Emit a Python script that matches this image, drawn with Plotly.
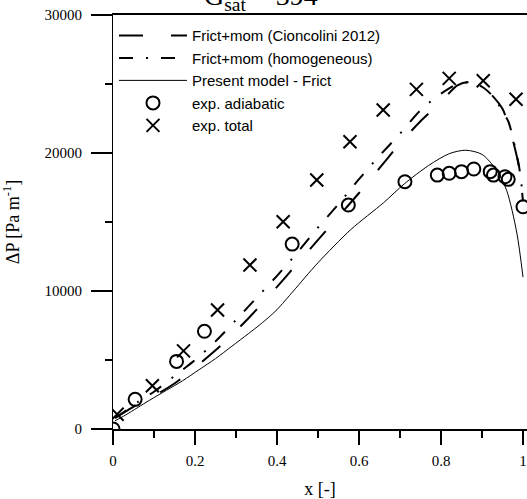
import plotly.graph_objects as go

# ---- data ----
x_cion = [0.005, 0.03, 0.06, 0.10, 0.15, 0.20, 0.25, 0.30, 0.35, 0.40, 0.45, 0.50, 0.55, 0.60,
          0.65, 0.70, 0.75, 0.80, 0.84, 0.87, 0.90, 0.93, 0.95, 0.97, 0.99, 1.0]
y_cion = [800, 1250, 1800, 2400, 3300, 4450, 5700, 7100, 8650, 10300, 12000, 13700, 15400, 17100,
          18900, 20700, 22300, 23700, 24900, 25150, 24800, 24000, 23200, 21500, 19000, 16500]

x_homo = [0.005, 0.03, 0.06, 0.10, 0.15, 0.20, 0.25, 0.30, 0.35, 0.40, 0.45, 0.50, 0.55, 0.60,
          0.65, 0.70, 0.75, 0.80, 0.84, 0.87, 0.90, 0.93, 0.95, 0.964, 0.98, 0.99, 1.0]
y_homo = [800, 1300, 1950, 2700, 3850, 5000, 6350, 7900, 9500, 11100, 12800, 14600, 16300, 18100,
          19800, 21400, 23100, 24300, 25000, 25100, 24800, 24000, 23000, 22300, 20500, 19100, 16800]

x_model = [0.005, 0.03, 0.06, 0.09, 0.13, 0.17, 0.21, 0.25, 0.29, 0.33, 0.36, 0.38, 0.40, 0.44,
           0.50, 0.58, 0.66, 0.71, 0.77, 0.82, 0.86, 0.90, 0.935, 0.96, 0.985, 1.0]
y_model = [600, 1000, 1550, 2100, 2800, 3500, 4300, 5100, 6000, 6900, 7600, 8100, 8650, 10000,
           12050, 14450, 16400, 17750, 19100, 19950, 20200, 19900, 18770, 17300, 14200, 11000]

x_adiab = [0, 0.054, 0.155, 0.223, 0.437, 0.574, 0.712, 0.791, 0.820, 0.850, 0.880,
           0.920, 0.928, 0.956, 0.964, 1.0]
y_adiab = [0, 2150, 4900, 7080, 13400, 16230, 17920, 18400, 18530, 18650, 18840,
           18650, 18400, 18280, 18090, 16100]

x_total = [0.010, 0.096, 0.172, 0.255, 0.334, 0.415, 0.497, 0.578, 0.659, 0.740, 0.820, 0.903, 0.983]
y_total = [1070, 3130, 5660, 8620, 11880, 15020, 18040, 20820, 23120, 24610, 25410, 25240, 23890]

x_ticks = [0, 0.2, 0.4, 0.6, 0.8, 1.0]
x_ticklabels = ["0", "0.2", "0.4", "0.6", "0.8", "1"]
y_ticks = [0, 10000, 20000, 30000]
y_ticklabels = ["0", "10000", "20000", "30000"]

SERIF = "Liberation Serif, Times New Roman, serif"
SANS = "Liberation Sans, Arial, sans-serif"

fig = go.Figure()
fig.add_trace(go.Scatter(x=x_cion, y=y_cion, mode="lines", name="Frict+mom (Cioncolini 2012)",
                         line=dict(color="black", width=2, dash="24px,28px", shape="spline", smoothing=0.8)))
fig.add_trace(go.Scatter(x=x_homo, y=y_homo, mode="lines", name="Frict+mom (homogeneous)",
                         line=dict(color="black", width=2, dash="14px,13px,2px,13px", shape="spline", smoothing=0.8)))
fig.add_trace(go.Scatter(x=x_model, y=y_model, mode="lines", name="Present model - Frict",
                         line=dict(color="black", width=1, shape="spline", smoothing=0.8)))
fig.add_trace(go.Scatter(x=x_adiab, y=y_adiab, mode="markers", name="exp. adiabatic",
                         marker=dict(symbol="circle-open", size=13, color="black", line=dict(width=2, color="black"))))
fig.add_trace(go.Scatter(x=x_total, y=y_total, mode="markers", name="exp. total",
                         marker=dict(symbol="x-thin-open", size=13, color="black", line=dict(width=2, color="black"))))

fig.update_layout(
    width=527, height=499,
    margin=dict(l=113, r=0, t=15, b=70),
    paper_bgcolor="white", plot_bgcolor="white",
    font=dict(family=SERIF, size=15, color="black"),
    legend=dict(x=0.0024, y=0.990, xanchor="left", yanchor="top", bgcolor="rgba(0,0,0,0)",
                font=dict(family=SANS, size=15, color="black"), tracegroupgap=0, itemwidth=68),
    showlegend=True,
    hovermode=False,
    annotations=[dict(text="G<sub>sat</sub> = 394",
                      xref="paper", yref="paper", x=0.215, y=0.9952, xanchor="left", yanchor="bottom",
                      showarrow=False, font=dict(family=SERIF, size=28, color="black"))],
)
fig.update_xaxes(
    range=[0, 414 / 410], tickvals=x_ticks, ticktext=x_ticklabels,
    ticks="outside", ticklen=14, tickwidth=2, tickcolor="black", ticklabelstandoff=3,
    minor=dict(dtick=0.1, tick0=0, ticks="outside", ticklen=7, tickwidth=2, tickcolor="black"),
    showline=True, linewidth=2, linecolor="black", mirror=True, showgrid=False, zeroline=False,
    tickfont=dict(family=SERIF, size=15),
    title=dict(text="x [-]", font=dict(family=SERIF, size=18), standoff=14),
)
fig.update_yaxes(
    range=[0, 30000], tickvals=y_ticks, ticktext=y_ticklabels,
    ticks="outside", ticklen=21, tickwidth=2, tickcolor="black", ticklabelstandoff=6,
    minor=dict(dtick=5000, tick0=0, ticks="outside", ticklen=7, tickwidth=2, tickcolor="black"),
    showline=True, linewidth=1, linecolor="black", mirror=False, showgrid=False, zeroline=False,
    tickfont=dict(family=SERIF, size=15),
    title=dict(text="ΔP [Pa m<sup>-1</sup>]", font=dict(family=SERIF, size=18), standoff=20),
)

# remove the browser's default 8px page margin so the 527x499 figure fills the window exactly
fig.write_html("out.html", config={"displayModeBar": False, "staticPlot": True},
               post_script="document.body.style.margin='0';document.body.style.overflow='hidden';")
